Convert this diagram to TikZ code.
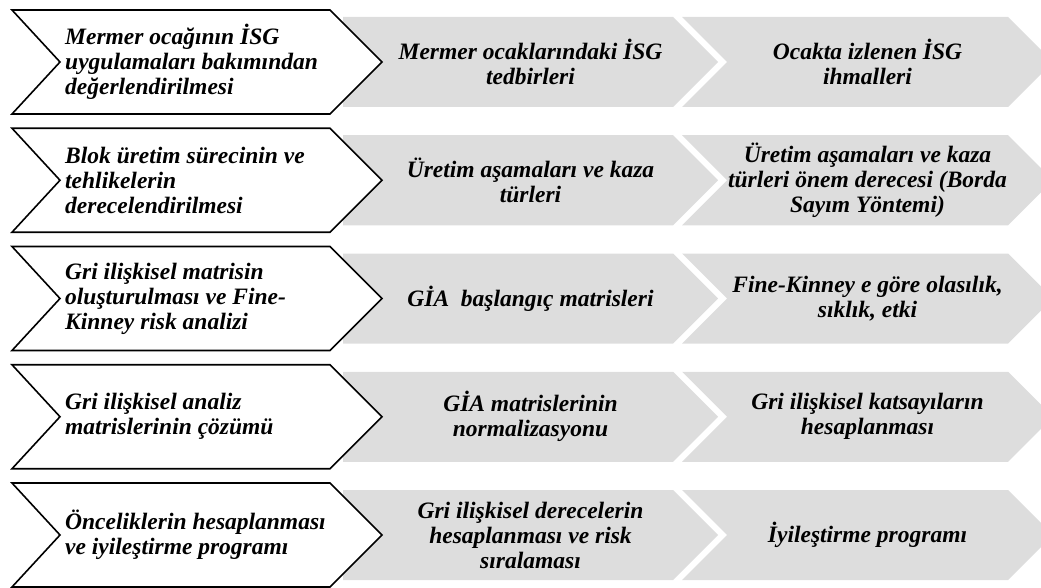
\documentclass[tikz,border=0pt]{standalone}
\usepackage{fontspec}
\setmainfont{Liberation Serif}
\definecolor{rowgray}{RGB}{221,221,221}
\tikzset{
  whitechev/.style={draw=black, fill=white, line width=1.6pt, line join=miter},
  graychev/.style={fill=rowgray, draw=none},
  lefttext/.style={anchor=west, align=left, inner sep=0pt, font=\fontsize{23.5}{25}\selectfont\bfseries\itshape},
  midtext/.style={anchor=center, align=center, inner sep=0pt, font=\fontsize{23.5}{25}\selectfont\bfseries\itshape}
}
\begin{document}
\begin{tikzpicture}[x=1pt,y=-1pt]
\useasboundingbox (0,0) rectangle (1041,588);
\clip (0,0) rectangle (1041,588);
\foreach \t in {10,128.25,246.5,364.75,483} {
  \pgfmathsetmacro{\m}{\t+52}
  \pgfmathsetmacro{\b}{\t+104}
  \pgfmathsetmacro{\gt}{\t+7}
  \pgfmathsetmacro{\gb}{\t+97}
  \fill[graychev] (343,\gt) -- (673,\gt) -- (718,\m) -- (673,\gb) -- (343,\gb) -- cycle;
  \fill[graychev] (682,\gt) -- (1008,\gt) -- (1053,\m) -- (1008,\gb) -- (682,\gb) -- (727,\m) -- cycle;
  \draw[whitechev] (12,\t) -- (330,\t) -- (382,\m) -- (330,\b) -- (12,\b) -- (60,\m) -- cycle;
}
% row 1
\node[lefttext] (a1) at (65,62) {Mermer ocağının İSG\\uygulamaları bakımından\\değerlendirilmesi};
\node[midtext] (b1) at (530.5,62) {Mermer ocaklarındaki İSG\\tedbirleri};
\node[midtext] (c1) at (867.5,62) {Ocakta izlenen İSG\\ihmalleri};
% row 2
\node[lefttext] (a2) at (65,180.25) {Blok üretim sürecinin ve\\tehlikelerin\\derecelendirilmesi};
\node[midtext] (b2) at (530.5,180.25) {Üretim aşamaları ve kaza\\türleri};
\node[midtext] (c2) at (867.5,180.25) {Üretim aşamaları ve kaza\\türleri önem derecesi (Borda\\Sayım Yöntemi)};
% row 3
\node[lefttext] (a3) at (65,298.5) {Gri ilişkisel matrisin\\oluşturulması ve Fine-\\Kinney risk analizi};
\node[midtext] (b3) at (530.5,298.5) {GİA~ başlangıç matrisleri};
\node[midtext] (c3) at (867.5,298.5) {Fine-Kinney e göre olasılık,\\sıklık, etki};
% row 4
\node[lefttext] (a4) at (65,416.75) {Gri ilişkisel analiz\\matrislerinin çözümü};
\node[midtext] (b4) at (530.5,416.75) {GİA matrislerinin\\normalizasyonu};
\node[midtext] (c4) at (867.5,416.75) {Gri ilişkisel katsayıların\\hesaplanması};
% row 5
\node[lefttext] (a5) at (65,535) {Önceliklerin hesaplanması\\ve iyileştirme programı};
\node[midtext] (b5) at (530.5,535) {Gri ilişkisel derecelerin\\hesaplanması ve risk\\sıralaması};
\node[midtext] (c5) at (867.5,535) {İyileştirme programı};
\end{tikzpicture}
\end{document}
